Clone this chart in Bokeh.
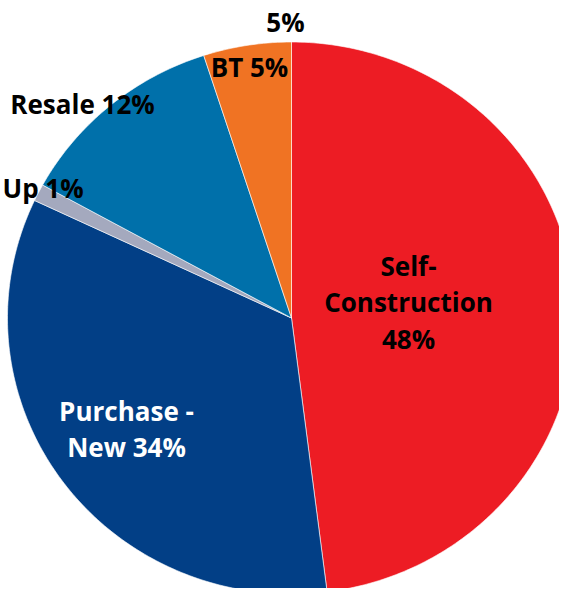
import numpy as np
from bokeh.plotting import figure
from bokeh.models import Range1d, ColumnDataSource
from bokeh.embed import file_html
from bokeh.resources import INLINE
from bokeh.core.properties import value

# ---- data ----
categories = ["Self-Construction", "Purchase - New", "Up", "Resale", "BT"]
shares = [48, 34, 1, 12, 5]
slice_colors = ["#ED1C24", "#023F86", "#A4A9BE", "#0070AA", "#F07323"]
labels = ["Self-\nConstruction\n48%", "Purchase -\nNew 34%", "Up 1%", "Resale 12%", "BT 5%"]
label_colors = ["black", "white", "black", "black", "black"]
extra_label = "5%"

# ---- layout (pixels, pie centre at 0,0) ----
RX, RY = 284, 276
label_x = [117, -165, -289, -209, -42]
label_y = [15.5, -111, 130.5, 214.5, 251.5]
label_align = ["center", "center", "left", "center", "center"]
extra_x, extra_y = -6, 296.5
FONT = "Open Sans"
FSIZE = "26px"

p = figure(width=559, height=588, output_backend="svg", toolbar_location=None,
           x_range=Range1d(-291, 268), y_range=Range1d(-270.5, 317.5),
           min_border=0, outline_line_color=None)
p.axis.visible = False
p.grid.visible = False
p.background_fill_color = "white"
p.border_fill_color = "white"

total = float(sum(shares))
cum = np.concatenate([[0.0], np.cumsum(shares)]) / total
xs, ys = [], []
for i in range(len(shares)):
    a0, a1 = cum[i] * 2 * np.pi, cum[i + 1] * 2 * np.pi
    n = max(4, int((a1 - a0) / (2 * np.pi) * 400))
    t = np.linspace(a0, a1, n)
    # clockwise from 12 o'clock
    px = np.concatenate([[0.0], RX * np.sin(t)])
    py = np.concatenate([[0.0], RY * np.cos(t)])
    xs.append(list(px))
    ys.append(list(py))

src = ColumnDataSource(dict(xs=xs, ys=ys, color=slice_colors, cat=categories))
p.patches("xs", "ys", fill_color="color", line_color="white", line_width=0.6, source=src)

for txt, x, y, c, al in zip(labels, label_x, label_y, label_colors, label_align):
    p.text(x=[x], y=[y], text=[txt], text_color=c, text_align=al,
           text_baseline="middle", text_font=value(FONT), text_font_style="bold",
           text_font_size=FSIZE, text_line_height=1.02)

p.text(x=[extra_x], y=[extra_y], text=[extra_label], text_color="black", text_align="center",
       text_baseline="middle", text_font=value(FONT), text_font_style="bold",
       text_font_size=FSIZE)

open("out.html", "w").write(file_html(p, INLINE))
